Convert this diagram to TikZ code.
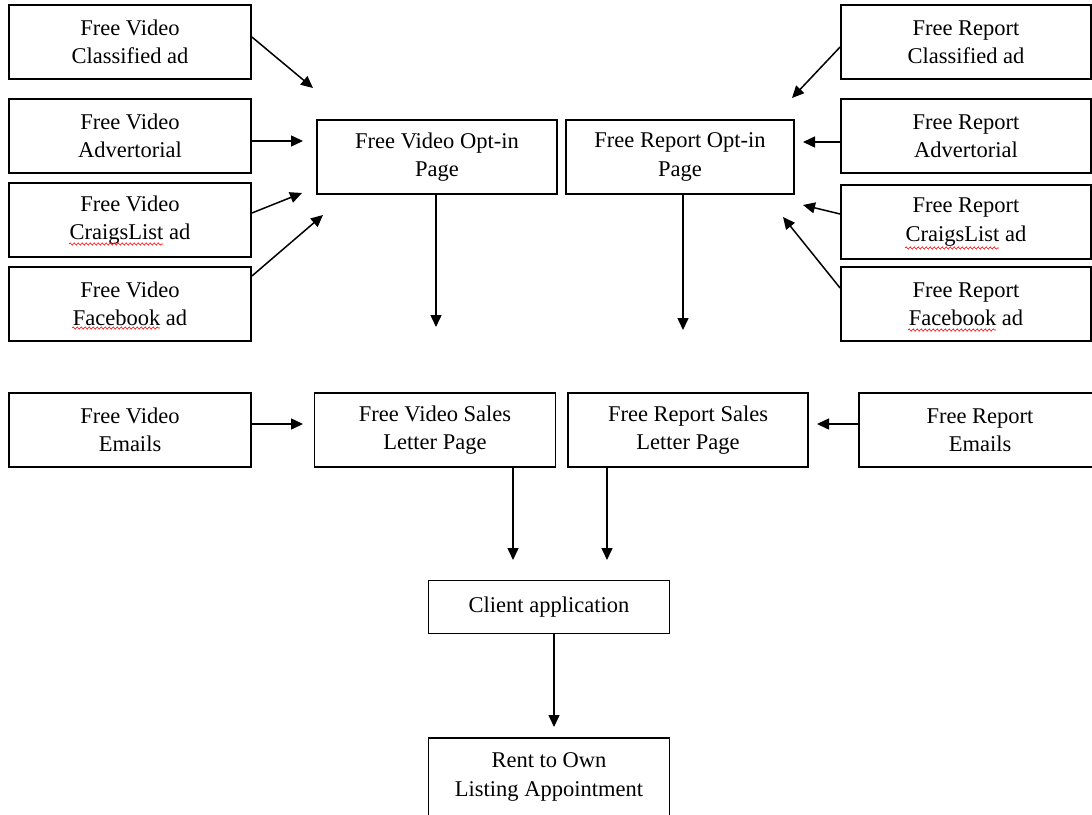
\documentclass[tikz,border=0pt]{standalone}
\usepackage{fontspec}
\setmainfont{Liberation Serif}
\usetikzlibrary{arrows.meta,decorations.pathmorphing}

\begin{document}
\begin{tikzpicture}[
    x=1pt, y=-1pt,
    >={Triangle[length=12pt,width=11pt]},
    box/.style={rectangle, draw, line width=1.8pt, align=center, inner sep=0pt,
                font=\fontsize{22.5}{28.5}\selectfont},
    sidebox/.style={box, minimum width=242pt, minimum height=74pt},
    farbox/.style={box, minimum width=250pt, minimum height=74pt},
    pagebox/.style={box, minimum height=74pt},
    arr/.style={->, line width=1.5pt},
    spell/.style={red, line width=0.6pt, decorate,
                  decoration={snake, amplitude=1.1pt, segment length=4pt}}
  ]
    \path[use as bounding box, clip] (0,0) rectangle (1092,814);

    %--- video ads (left) ---
    \node[sidebox] (lv1) at (130,42)  {Free Video\\Classified ad};
    \node[sidebox] (lv2) at (130,136) {Free Video\\Advertorial};
    \node[sidebox] (lv3) at (130,220) {Free Video\\CraigsList ad};
    \node[sidebox] (lv4) at (130,304) {Free Video\\Facebook ad};

    %--- report ads (right) ---
    \node[farbox] (rv1) at (966,42)  {Free Report\\Classified ad};
    \node[farbox] (rv2) at (966,136) {Free Report\\Advertorial};
    \node[farbox] (rv3) at (966,222) {Free Report\\CraigsList ad};
    \node[farbox] (rv4) at (966,304) {Free Report\\Facebook ad};

    %--- opt-in pages ---
    \node[pagebox, minimum width=240pt] (vopt) at (437,157) {Free Video Opt-in\\Page};
    \node[pagebox, minimum width=228pt] (ropt) at (680,157) {Free Report Opt-in\\Page};

    %--- sales letters and emails ---
    \node[sidebox] (vmail) at (130,430) {Free Video\\Emails};
    \node[pagebox, minimum width=241pt] (vsales) at (435,430) {Free Video Sales\\Letter Page};
    \node[pagebox, minimum width=240pt] (rsales) at (688,430) {Free Report Sales\\Letter Page};
    \node[sidebox] (rmail) at (980,430) {Free Report\\Emails};

    %--- final steps ---
    \node[box, minimum width=241pt, minimum height=53pt] (client) at (549,607) {Client application};
    \node[box, minimum width=241pt, minimum height=78pt] (rent) at (549,777) {Rent to Own\\Listing Appointment};

    %--- spell-check marks ---
    \draw[spell] ([xshift=-61pt,yshift=-24pt]lv3.center) -- ++(94,0);
    \draw[spell] ([xshift=-58pt,yshift=-24pt]lv4.center) -- ++(88,0);
    \draw[spell] ([xshift=-61pt,yshift=-26pt]rv3.center) -- ++(94,0);
    \draw[spell] ([xshift=-58pt,yshift=-26pt]rv4.center) -- ++(88,0);

    %--- arrow tips (free ends) ---
    \coordinate (t1) at (313,88);
    \coordinate (t2) at (303,141);
    \coordinate (t3) at (302,193);
    \coordinate (t4) at (323,215);
    \coordinate (t5) at (792,98);
    \coordinate (t6) at (803,142);
    \coordinate (t7) at (803,205);
    \coordinate (t8) at (783,217);
    \coordinate (t9) at (436,327);
    \coordinate (t10) at (683,330);
    \coordinate (t11) at (303,424);
    \coordinate (t12) at (817,424);
    \coordinate (t13) at (513,560);
    \coordinate (t14) at (607,560);
    \coordinate (t15) at (554,727);

    \draw[arr] ([yshift=5pt]lv1.east)   -- (t1);
    \draw[arr] ([yshift=-5pt]lv2.east)  -- (t2);
    \draw[arr] ([yshift=7pt]lv3.east)   -- (t3);
    \draw[arr] ([yshift=28pt]lv4.east)  -- (t4);
    \draw[arr] ([yshift=-5pt]rv1.west)  -- (t5);
    \draw[arr] ([yshift=-6pt]rv2.west)  -- (t6);
    \draw[arr] ([yshift=8pt]rv3.west)   -- (t7);
    \draw[arr] ([yshift=16pt]rv4.west)  -- (t8);
    \draw[arr] (vopt.south -| t9)   -- (t9);
    \draw[arr] (ropt.south -| t10)  -- (t10);
    \draw[arr] (vmail.east |- t11)  -- (t11);
    \draw[arr] (rmail.west |- t12)  -- (t12);
    \draw[arr] (vsales.south -| t13) -- (t13);
    \draw[arr] (rsales.south -| t14) -- (t14);
    \draw[arr] (client.south -| t15) -- (t15);
\end{tikzpicture}
\end{document}
